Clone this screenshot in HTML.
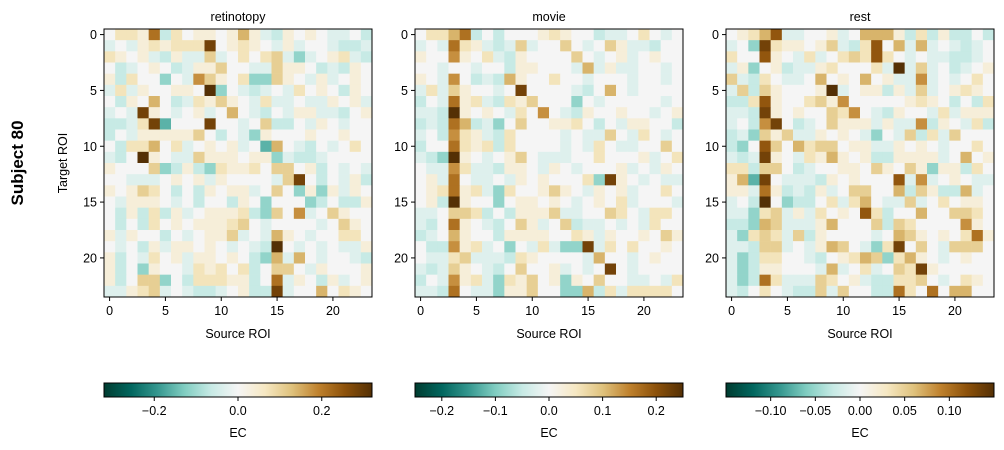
<!DOCTYPE html>
<html><head><meta charset="utf-8">
<style>
html,body{margin:0;padding:0;background:#fff;}
svg{display:block;font-family:"Liberation Sans","DejaVu Sans",sans-serif;}
</style></head>
<body>
<svg id="fig" width="1004" height="450" viewBox="0 0 1004 450" xmlns="http://www.w3.org/2000/svg">
<defs>
<linearGradient id="cbgrad" x1="0" x2="1" y1="0" y2="0">
<stop offset="0" stop-color="rgb(0,60,48)"/>
<stop offset="0.1" stop-color="rgb(1,102,94)"/>
<stop offset="0.2" stop-color="rgb(53,151,143)"/>
<stop offset="0.3" stop-color="rgb(128,205,193)"/>
<stop offset="0.4" stop-color="rgb(199,234,229)"/>
<stop offset="0.5" stop-color="rgb(245,245,245)"/>
<stop offset="0.6" stop-color="rgb(246,232,195)"/>
<stop offset="0.7" stop-color="rgb(223,194,125)"/>
<stop offset="0.8" stop-color="rgb(191,129,45)"/>
<stop offset="0.9" stop-color="rgb(140,81,10)"/>
<stop offset="1" stop-color="rgb(84,48,5)"/>
</linearGradient>
</defs>
<text x="0" y="0" transform="translate(23,163) rotate(-90)" text-anchor="middle" font-size="17" font-weight="bold">Subject 80</text>
</svg>
<script>
// Data: each row is a string of 24 codes (digits 1-9 = positive fraction of vmax, a-d negative)
const panelTitles = ["retinotopy", "movie", "rest"];
const panelVmax = [0.32, 0.25, 0.15];
const cbTicks1 = [-0.2, 0.0, 0.2];
const cbTicks2 = [-0.2, -0.1, 0.0, 0.1, 0.2];
const cbTicks3 = [-0.10, -0.05, 0.00, 0.05, 0.10];
const cbTickLabels1 = ["\u22120.2", "0.0", "0.2"];
const cbTickLabels2 = ["\u22120.2", "\u22120.1", "0.0", "0.1", "0.2"];
const cbTickLabels3 = ["\u22120.10", "\u22120.05", "0.00", "0.05", "0.10"];
const axisTicks = [0, 5, 10, 15, 20];
const retinotopyRows = [
"02216b 201101 41ab10 10aa0b","a0a121 222801 210a1a 00abba","2101ab 1aa3a0 2023ac a012ab","0ba010 ba1130 0aa311 0bab10",
"1b200c 0a5310 2cc310 a1a010","a2a100 1109c0 aba0a2 010b10","0b1040 ba2131 0a2aa0 aa101a","a0a810 a01a04 0ab0a1 1aab01",
"bba28d 000800 a03bb0 a10a00","b0a111 1130b0 ac1000 100100","0b2240 2a0101 a0d40a b0a020","ab0910 aa3111 011cab ba0000",
"10003c b1bc21 120330 1b0a0a","00aaa0 101a10 000a38 0b0a1b","101320 b0b101 1a030c 1c1a10","0a1110 a0b00b 10c000 cb0bb1",
"0b1b2b 1a0111 2bc305 a03100","0b0b20 101112 30a000 0a0310","1a100b 0a0113 a0a410 a00220","0a0b1a 11010a 0ab90a 0a0aa1",
"1b0a20 1a1101 0bc4a4 0a00ab","1b0c10 0a2120 2b0330 a10001","1b033c 0b2221 1b06a1 0b1a01","aa123a 0abba0 1bb8a0 040210"];
const movieRows = [
"02246b 0b0001 2100ba a020a0","a0a621 aba3a0 030a03 1aab00","100510 2ab100 0030a0 1a0100","00a00a 00b110 00a4a1 aa00a0",
"10a50b ab4100 200a00 0a00a0","a2a310 0a0800 00ab04 0a0000","b0a612 ab2130 00c0a0 0000a0","aab910 10a205 0ab100 100a01",
"bab64b ac0300 1120b0 a1100b","a0b521 ab2000 0a0aa3 0a20a0","b00621 2b2000 0a0a20 aa0030","abc910 a0130a aa0020 001a02",
"0aa52a ab110a 10a000 1a0a10","01a60a a0a101 0002c8 10a0aa","012612 ac2001 310a10 1a0020","01b910 0c0110 10a010 2a000a",
"aa0332 b0b111 3aa003 20a220","ab0610 ab031a 03baa0 a0a200","ba0410 0b1111 0021a1 001031","0bb512 a0c0a2 acc8a2 020010",
"0aa23a aab210 000a40 0a0100","aba310 ab0300 1a0a08 0a0000","b0a512 ac2130 1c1030 0aa0a2","aab60a ac1130 0cc4b2 a22220"];
const restRows = [
"01247a a001a0 4441b2 b1bb0b","a0c821 1013ab 2704a4 a0aba0","200710 a2a023 2720a0 aabba0","a1c01b aa1200 02a9a3 a0ba01",
"3ab20a a04010 401aa5 a0a020","a3b310 0019a0 11b1a3 a01210","bb2710 023150 000012 10b0b2","aab810 100325 0ab100 a2a111",
"a0b580 ba0311 1a1aa5 b10a2b","bac313 aa1010 ac0a3b 2a3000","bc0730 423301 1aa101 0a0020","aba810 a21410 1bb111 1a0401",
"22b330 ba0011 031031 c11b20","14d80a aab101 0007a5 a010aa","11a61b ab1a03 3004b3 1bb4a0","a0b90c bb02a2 40aa3a 020110",
"aac23a 1a2010 72b004 003320","bbc43a aa1400 03b320 000510","ac232a 3b1000 0a0431 010261","aab33a 0a1430 ac2803 0a3330",
"acb220 0ab012 43c241 0a0100","acb110 00a4a0 2a0328 100000","acb62a aa3201 abb223 0a0210","ab020a bb3a30 0bb620 604400"];
const panelRows = [retinotopyRows, movieRows, restRows];
const panelCbTicks = [cbTicks1, cbTicks2, cbTicks3];
const panelCbLabels = [cbTickLabels1, cbTickLabels2, cbTickLabels3];

const NS = "http://www.w3.org/2000/svg";
const svg = document.getElementById("fig");
const PX = [104, 415, 726], PY = 29, PW = 268, N = 24, CS = PW / N;
const CBY = 383, CBH = 14;
const stops = [[0,60,48],[1,102,94],[53,151,143],[128,205,193],[199,234,229],[245,245,245],[246,232,195],[223,194,125],[191,129,45],[140,81,10],[84,48,5]];
function codeToFrac(ch){
  if (ch >= "0" && ch <= "9") return (+ch) / 9;
  const neg = {a:-0.1, b:-0.2, c:-0.35, d:-0.5, e:-0.7};
  return neg[ch] || 0;
}
function color(v, vmax){
  let t = (v / vmax + 1) / 2; t = Math.max(0, Math.min(1, t));
  const p = t * 10, i = Math.min(9, Math.floor(p)), f = p - i;
  const a = stops[i], b = stops[i+1];
  return "rgb(" + a.map((c,k)=>Math.round(c + (b[k]-c)*f)).join(",") + ")";
}
function mk(tag, attrs, parent){
  const e = document.createElementNS(NS, tag);
  for (const k in attrs) e.setAttribute(k, attrs[k]);
  (parent || svg).appendChild(e); return e;
}
function xScale(p, col){ return PX[p] + col * CS; }
function yScale(row){ return PY + row * CS; }

for (let p = 0; p < 3; p++){
  const g = mk("g", {});
  
  
  const vmax = panelVmax[p];
  panelRows[p].forEach((rs, r) => {
    const codes = rs.replace(/ /g, "").padEnd(N, "0").slice(0, N);
    for (let c = 0; c < N; c++){
      const v = codeToFrac(codes[c]) * vmax;
      const cell = mk("rect", {x: xScale(p, c), y: yScale(r), width: CS + 0.3, height: CS + 0.3, fill: color(v, vmax)}, g);
      
      
    }
  });
  const frame = mk("rect", {x: PX[p], y: PY, width: PW, height: PW, fill: "none", stroke: "#000", "stroke-width": 1});
  
  
  const t = mk("text", {x: PX[p] + PW/2, y: 21, "text-anchor": "middle", "font-size": 12.5});
  t.textContent = panelTitles[p];
  
  
  axisTicks.forEach(k => {
    const cx = xScale(p, k + 0.5);
    mk("line", {x1: cx, x2: cx, y1: PY + PW, y2: PY + PW + 4, stroke: "#000"});
    const lx = mk("text", {x: cx, y: PY + PW + 18, "text-anchor": "middle", "font-size": 12.5});
    lx.textContent = k;
    
    
    const cy = yScale(k + 0.5);
    mk("line", {x1: PX[p] - 4, x2: PX[p], y1: cy, y2: cy, stroke: "#000"});
    const ly = mk("text", {x: PX[p] - 7, y: cy + 4.5, "text-anchor": "end", "font-size": 12.5});
    ly.textContent = k;
    
    
  });
  const xl = mk("text", {x: PX[p] + PW/2, y: 338, "text-anchor": "middle", "font-size": 12.5});
  xl.textContent = "Source ROI";
  
  
  // colorbar
  const cb = mk("rect", {x: PX[p], y: CBY, width: PW, height: CBH, fill: "url(#cbgrad)", stroke: "#000", "stroke-width": 1});
  
  
  panelCbTicks[p].forEach((tv, i) => {
    const tx = PX[p] + (tv / vmax + 1) / 2 * PW;
    mk("line", {x1: tx, x2: tx, y1: CBY + CBH, y2: CBY + CBH + 4, stroke: "#000"});
    const tl = mk("text", {x: tx, y: CBY + CBH + 18, "text-anchor": "middle", "font-size": 12.5});
    tl.textContent = panelCbLabels[p][i];
    
    
  });
  const ec = mk("text", {x: PX[p] + PW/2, y: 437, "text-anchor": "middle", "font-size": 12.5});
  ec.textContent = "EC";
  
  
}
const yt = mk("text", {x: 0, y: 0, transform: "translate(67,163) rotate(-90)", "text-anchor": "middle", "font-size": 12.5});
yt.textContent = "Target ROI";


</script>
</body></html>
